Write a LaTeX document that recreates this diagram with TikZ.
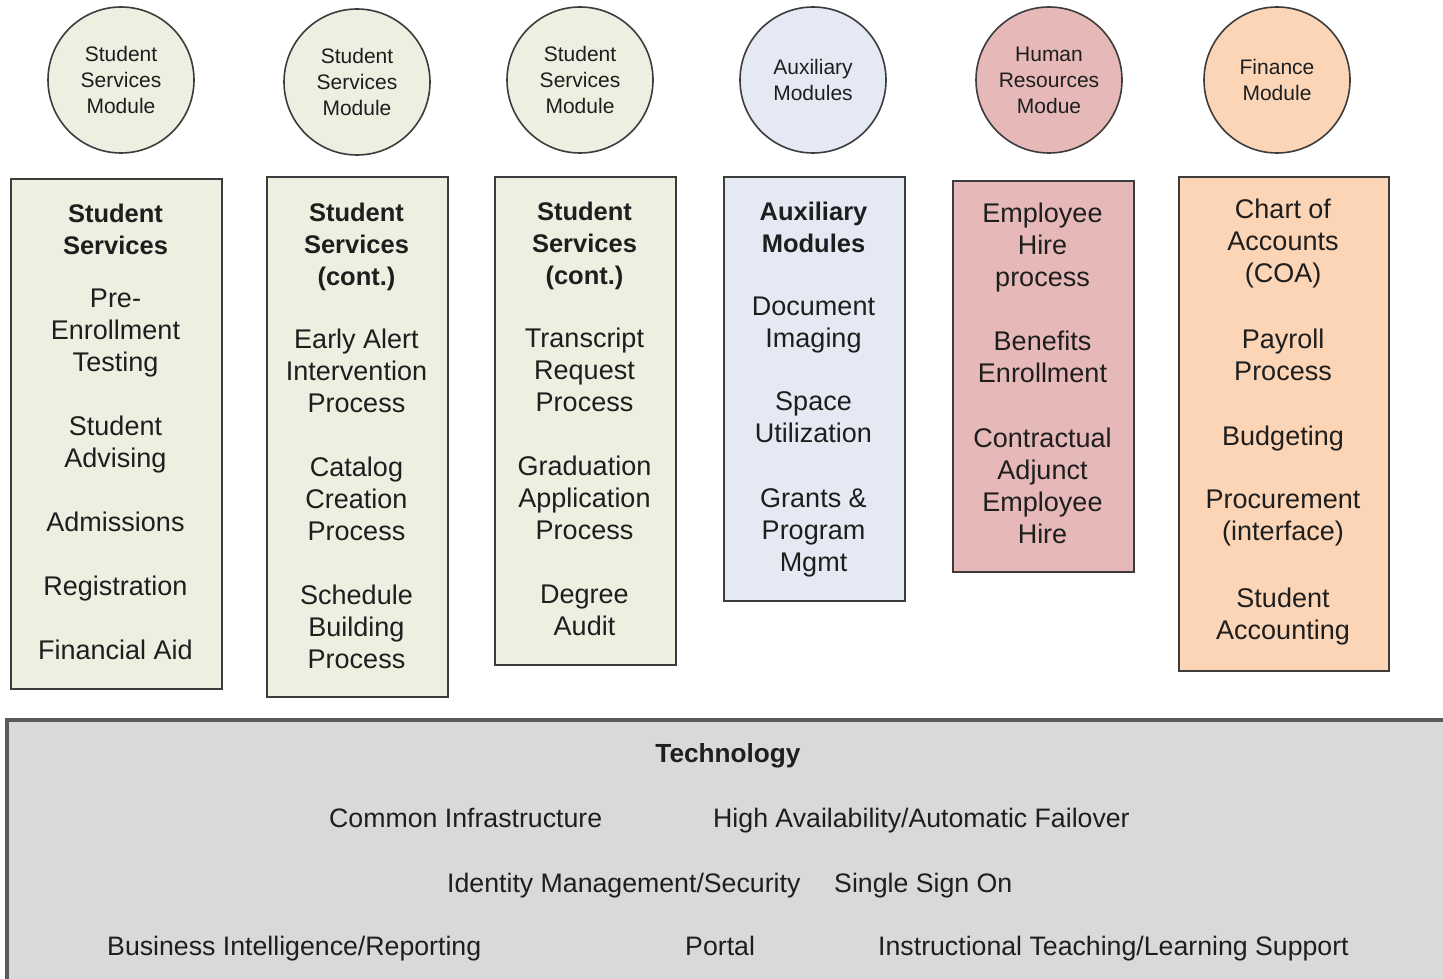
\documentclass[tikz,border=0pt]{standalone}
\usepackage{fontspec}
\setmainfont{Liberation Sans}
\definecolor{ssgreen}{HTML}{EBF0E0}
\definecolor{auxblue}{HTML}{E4E9F3}
\definecolor{hrpink}{HTML}{E6B9B8}
\definecolor{finorange}{HTML}{FBD5B6}
\definecolor{techgray}{HTML}{D9D9D9}
\definecolor{boxline}{HTML}{3C3C3C}
\definecolor{techline}{HTML}{5A5A5A}
\definecolor{txt}{HTML}{1E1E1E}
\newcommand\boxhead[1]{{\bfseries\fontsize{25.5}{32}\selectfont #1}}
\begin{document}
\begin{tikzpicture}[x=1pt,y=-1pt,
  modcirc/.style={circle, draw=boxline, line width=1.6pt, minimum size=146pt, inner sep=0pt,
    align=center, font=\fontsize{21}{26}\selectfont, text=txt},
  colbox/.style={draw=boxline, line width=2pt, anchor=north west, inner sep=0pt},
  boxtxt/.style={anchor=north, align=center, inner sep=0pt, font=\fontsize{27}{32}\selectfont, text=txt},
  techbox/.style={draw=techline, line width=3.5pt, fill=techgray, anchor=north west, inner sep=0pt},
  techtxt/.style={anchor=base west, inner sep=0pt, font=\fontsize{26.7}{32}\selectfont, text=txt}]
\useasboundingbox (0,0) rectangle (1443,979);
\clip (0,0) rectangle (1443,979);
\fill[white] (0,0) rectangle (1443,979);

% module circles
\node[modcirc, fill=ssgreen] (c1) at (121,80) {Student\\Services\\Module};
\node[modcirc, fill=ssgreen] (c2) at (357,82) {Student\\Services\\Module};
\node[modcirc, fill=ssgreen] (c3) at (580,80) {Student\\Services\\Module};
\node[modcirc, fill=auxblue] (c4) at (813,80) {Auxiliary\\Modules};
\node[modcirc, fill=hrpink] (c5) at (1049,80) {Human\\Resources\\Modue};
\node[modcirc, fill=finorange] (c6) at (1277,80) {Finance\\Module};

% column boxes
\node[colbox, fill=ssgreen, minimum width=211pt, minimum height=510pt] (b1) at (10,178) {};
\node[colbox, fill=ssgreen, minimum width=181pt, minimum height=520pt] (b2) at (266,176) {};
\node[colbox, fill=ssgreen, minimum width=181pt, minimum height=488pt] (b3) at (494,176) {};
\node[colbox, fill=auxblue, minimum width=181pt, minimum height=424pt] (b4) at (723,176) {};
\node[colbox, fill=hrpink, minimum width=181pt, minimum height=391pt] (b5) at (952,180) {};
\node[colbox, fill=finorange, minimum width=210pt, minimum height=494pt] (b6) at (1178,176) {};

% column texts
\node[boxtxt] (x1) at (115.5,203.4) {\boxhead{Student}\\\boxhead{Services}\\[21pt]
  Pre-\\Enrollment\\Testing\\[32pt]Student\\Advising\\[32pt]Admissions\\[32pt]Registration\\[32pt]Financial Aid};
\node[boxtxt] (x2) at (356.5,202.4) {\boxhead{Student}\\\boxhead{Services}\\\boxhead{(cont.)}\\[31pt]
  Early Alert\\Intervention\\Process\\[32pt]Catalog\\Creation\\Process\\[32pt]Schedule\\Building\\Process};
\node[boxtxt] (x3) at (584.5,201.4) {\boxhead{Student}\\\boxhead{Services}\\\boxhead{(cont.)}\\[31pt]
  Transcript\\Request\\Process\\[32pt]Graduation\\Application\\Process\\[32pt]Degree\\Audit};
\node[boxtxt] (x4) at (813.5,201.4) {\boxhead{Auxiliary}\\\boxhead{Modules}\\[31pt]
  Document\\Imaging\\[31pt]Space\\Utilization\\[33pt]Grants \&\\Program\\Mgmt};
\node[boxtxt] (x5) at (1042.5,202.3) {Employee\\Hire\\process\\[32pt]Benefits\\Enrollment\\[33pt]
  Contractual\\Adjunct\\Employee\\Hire};
\node[boxtxt] (x6) at (1283,198.3) {Chart of\\Accounts\\(COA)\\[34pt]Payroll\\Process\\[33pt]
  Budgeting\\[31pt]Procurement\\(interface)\\[35pt]Student\\Accounting};

% technology layer
\node[techbox, minimum width=1500pt, minimum height=300pt] (tech) at (5,718) {};
\node[anchor=base, inner sep=0pt, font=\bfseries\fontsize{26.2}{32}\selectfont, text=txt] (tt) at (728,762) {Technology};
\node[techtxt] (t1) at (329,827) {Common Infrastructure};
\node[techtxt] (t2) at (713,827) {High Availability/Automatic Failover};
\node[techtxt] (t3) at (447,892) {Identity Management/Security};
\node[techtxt] (t4) at (834,892) {Single Sign On};
\node[techtxt] (t5) at (107,955) {Business Intelligence/Reporting};
\node[techtxt] (t6) at (685,955) {Portal};
\node[techtxt] (t7) at (878,955) {Instructional Teaching/Learning Support};
\end{tikzpicture}
\end{document}
